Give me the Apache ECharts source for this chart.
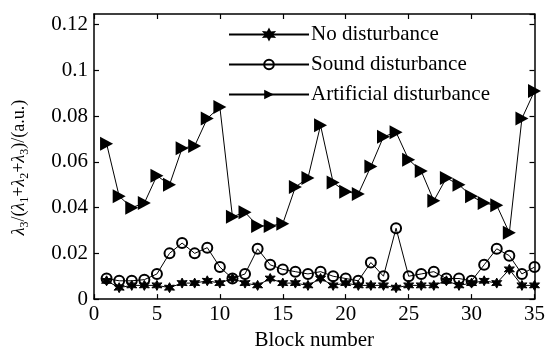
<!DOCTYPE html>
<html>
<head>
<meta charset="utf-8">
<script src="https://cdn.jsdelivr.net/npm/echarts@6/dist/echarts.min.js"></script>
<style>html,body{margin:0;padding:0;background:#fff;}#c{width:548px;height:356px;}</style>
</head>
<body>
<div id="c"></div>
<script>
var blocks = [1,2,3,4,5,6,7,8,9,10,11,12,13,14,15,16,17,18,19,20,21,22,23,24,25,26,27,28,29,30,31,32,33,34,35];
var noDisturbance = [0.008,0.005,0.006,0.006,0.006,0.005,0.007,0.007,0.008,0.007,0.009,0.007,0.006,0.009,0.007,0.007,0.006,0.009,0.006,0.007,0.006,0.006,0.006,0.005,0.006,0.006,0.006,0.008,0.006,0.007,0.008,0.007,0.013,0.006,0.006];
var soundDisturbance = [0.009,0.008,0.008,0.0085,0.011,0.020,0.0245,0.020,0.0225,0.014,0.009,0.011,0.022,0.015,0.013,0.012,0.011,0.012,0.010,0.009,0.008,0.016,0.010,0.031,0.010,0.011,0.012,0.009,0.009,0.008,0.015,0.022,0.019,0.011,0.014];
var artificialDisturbance = [0.068,0.045,0.040,0.042,0.054,0.050,0.066,0.067,0.079,0.084,0.036,0.038,0.032,0.032,0.033,0.049,0.053,0.076,0.051,0.047,0.046,0.058,0.071,0.073,0.061,0.056,0.043,0.053,0.050,0.045,0.042,0.041,0.029,0.079,0.091];
var seriesNames = ['No disturbance','Sound disturbance','Artificial disturbance'];
var xTicks = [0,5,10,15,20,25,30,35];
var yTicks = [0,0.02,0.04,0.06,0.08,0.1,0.12];

function pairs(vals){ return blocks.map(function(b,i){ return [b, vals[i]]; }); }

var FONT = '"Liberation Serif", "DejaVu Serif", serif';
var starPath = 'path://M50,0 L63,28 L93,25 L75,50 L93,75 L63,72 L50,100 L37,72 L7,75 L25,50 L7,25 L37,28 Z';
var triPath = 'path://M0,0 L100,55 L0,110 Z';

var chart = echarts.init(document.getElementById('c'), null, {renderer:'canvas'});
var axisLineStyle = {color:'#000', width:1.5};
chart.setOption({
  backgroundColor:'#fff',
  animation:false,
  grid:{left:94, right:11, top:14, bottom:49, containLabel:false},
  legend:{
    orient:'vertical', left:223, top:19,
    itemWidth:80, itemHeight:12, itemGap:9,
    data:seriesNames,
    textStyle:{fontFamily:FONT, fontSize:21, color:'#000', lineHeight:21, padding:[0,0,0,-3]},
    inactiveColor:'#000'
  },
  xAxis:[{
    type:'value', min:0, max:35, interval:5,
    axisLine:{show:true, onZero:false, lineStyle:axisLineStyle},
    axisTick:{show:true, inside:true, length:5, lineStyle:{color:'#000', width:1.2}},
    axisLabel:{fontFamily:FONT, fontSize:21, color:'#000', margin:5,
      formatter:function(v){ return xTicks.indexOf(v) >= 0 ? String(v) : ''; }},
    splitLine:{show:false},
    name:'Block number', nameLocation:'middle', nameGap:28,
    nameTextStyle:{fontFamily:FONT, fontSize:21, color:'#000'}
  },{
    type:'value', position:'top', min:0, max:35, interval:5,
    axisLine:{show:true, onZero:false, lineStyle:axisLineStyle},
    axisTick:{show:true, inside:true, length:5, lineStyle:{color:'#000', width:1.2}},
    axisLabel:{show:false}, splitLine:{show:false}
  }],
  yAxis:[{
    type:'value', min:0, max:0.1247, interval:0.02,
    axisLine:{show:true, onZero:false, lineStyle:axisLineStyle},
    axisTick:{show:true, inside:true, length:5, lineStyle:{color:'#000', width:1.2}},
    axisLabel:{fontFamily:FONT, fontSize:21, color:'#000', margin:6, showMaxLabel:false,
      formatter:function(v){
        for (var i=0;i<yTicks.length;i++){ if (Math.abs(v-yTicks[i])<1e-9) return String(yTicks[i]); }
        return '';
      }},
    splitLine:{show:false},
    name:'{l|λ}{s|3}{n|/(}{l|λ}{s|1}{n|+}{l|λ}{s|2}{n|+}{l|λ}{s|3}{n|)/(a.u.)}',
    nameLocation:'middle', nameGap:66,
    nameTextStyle:{
      fontFamily:FONT, fontSize:18, color:'#000', padding:[0,22,0,0],
      rich:{
        l:{fontFamily:FONT, fontSize:18, fontStyle:'italic', color:'#000', verticalAlign:'bottom', lineHeight:20},
        n:{fontFamily:FONT, fontSize:18, color:'#000', verticalAlign:'bottom', lineHeight:20},
        s:{fontFamily:FONT, fontSize:12, color:'#000', verticalAlign:'bottom', lineHeight:12, padding:[0,0,-3,0]}
      }
    }
  },{
    type:'value', position:'right', min:0, max:0.1247, interval:0.02,
    axisLine:{show:true, onZero:false, lineStyle:axisLineStyle},
    axisTick:{show:true, inside:true, length:5, lineStyle:{color:'#000', width:1.2}},
    axisLabel:{show:false}, splitLine:{show:false}
  }],
  series:[{
    name:seriesNames[0], type:'line', data:pairs(noDisturbance),
    symbol:starPath, symbolSize:10,
    lineStyle:{color:'#000', width:1},
    itemStyle:{color:'#000', borderColor:'#000', borderWidth:1}
  },{
    name:seriesNames[1], type:'line', data:pairs(soundDisturbance),
    symbol:'circle', symbolSize:10,
    lineStyle:{color:'#000', width:1},
    itemStyle:{color:'rgba(255,255,255,0)', borderColor:'#000', borderWidth:2}
  },{
    name:seriesNames[2], type:'line', data:pairs(artificialDisturbance),
    symbol:triPath, symbolSize:[13,14],
    lineStyle:{color:'#000', width:1},
    itemStyle:{color:'#000', borderColor:'#000', borderWidth:0}
  }]
});
</script>
</body>
</html>
